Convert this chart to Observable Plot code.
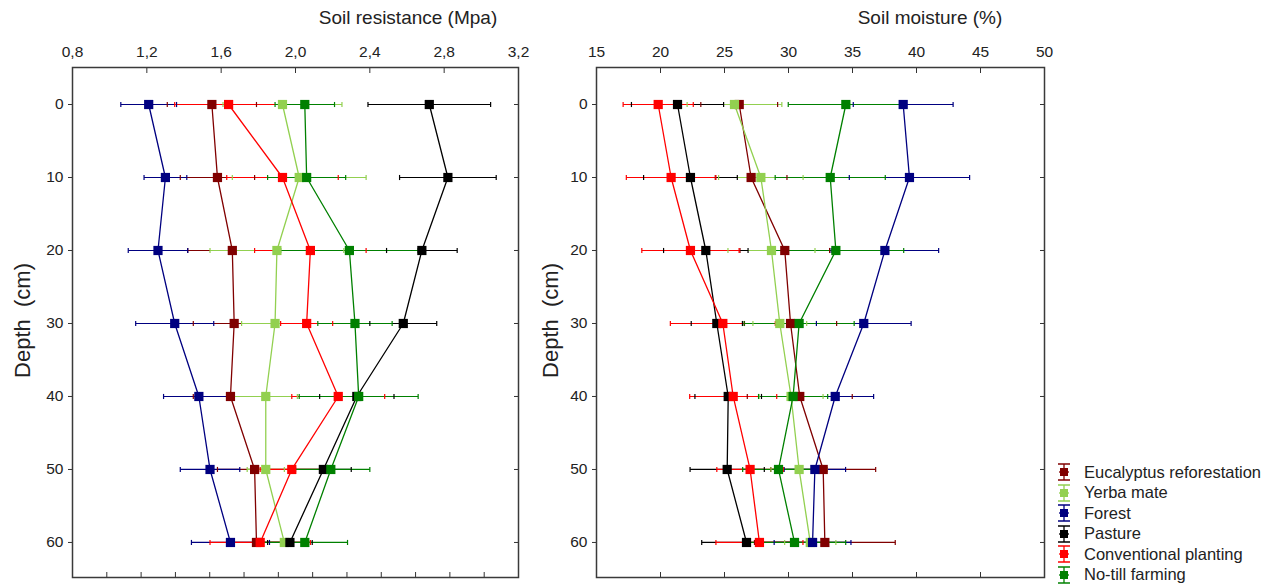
<!DOCTYPE html>
<html><head><meta charset="utf-8">
<script src="https://cdn.jsdelivr.net/npm/d3@7"></script>
<script src="https://cdn.jsdelivr.net/npm/@observablehq/plot@0.6"></script>
<style>
body{margin:0;background:#fff;font-family:"Liberation Sans",Arial,sans-serif;}
#wrap{position:relative;width:1273px;height:584px;overflow:hidden;background:#fff;}
.panel{position:absolute;top:0;}
.title{position:absolute;top:7px;font-size:19px;color:#222;white-space:nowrap;transform:translateX(-50%);}
#legend{position:absolute;left:1056px;top:462px;font-size:16.5px;color:#222;}
.item{display:flex;align-items:center;height:20.5px;}
.item svg{margin-right:12px;}
</style></head><body>
<div id="wrap">
  <div class="panel" id="left" style="left:0px"></div>
  <div class="panel" id="right" style="left:520px"></div>
  <div class="title" style="left:408px">Soil resistance (Mpa)</div>
  <div class="title" style="left:930px">Soil moisture (%)</div>
  <div id="legend"></div>
</div>
<script>
// ---- data ----
const depths = [0, 10, 20, 30, 40, 50, 60];
const seriesNames = ["Eucalyptus reforestation", "Yerba mate", "Forest", "Pasture", "Conventional planting", "No-till farming"];
const seriesColors = ["#800000", "#92d050", "#000080", "#000000", "#ff0000", "#008000"];

// Soil resistance (MPa) means per series, by depth
const resEucalyptus = [1.55, 1.58, 1.66, 1.67, 1.65, 1.78, 1.79];
const resYerba      = [1.93, 2.02, 1.90, 1.89, 1.84, 1.84, 1.94];
const resForest     = [1.21, 1.30, 1.26, 1.35, 1.48, 1.54, 1.65];
const resPasture    = [2.72, 2.82, 2.68, 2.58, 2.33, 2.15, 1.97];
const resConv       = [1.64, 1.93, 2.08, 2.06, 2.23, 1.98, 1.81];
const resNoTill     = [2.05, 2.06, 2.29, 2.32, 2.34, 2.19, 2.05];
// Soil resistance error half-widths
const resEucalyptusErr = [0.24, 0.20, 0.24, 0.22, 0.20, 0.20, 0.15];
const resYerbaErr      = [0.32, 0.36, 0.36, 0.18, 0.17, 0.10, 0.12];
const resForestErr     = [0.15, 0.115, 0.16, 0.21, 0.19, 0.16, 0.21];
const resPastureErr    = [0.33, 0.26, 0.19, 0.18, 0.20, 0.15, 0.12];
const resConvErr       = [0.29, 0.30, 0.30, 0.14, 0.25, 0.17, 0.27];
const resNoTillErr     = [0.16, 0.21, 0.37, 0.20, 0.32, 0.21, 0.23];

// Soil moisture (%) means
const moiEucalyptus = [26.15, 27.08, 29.71, 30.16, 30.88, 32.71, 32.84];
const moiYerba      = [25.78, 27.84, 28.67, 29.32, 30.20, 30.83, 31.70];
const moiForest     = [38.96, 39.45, 37.53, 35.88, 33.65, 32.06, 31.88];
const moiPasture    = [21.33, 22.34, 23.54, 24.40, 25.29, 25.21, 26.72];
const moiConv       = [19.82, 20.83, 22.34, 24.87, 25.68, 27.00, 27.73];
const moiNoTill     = [34.48, 33.26, 33.70, 30.83, 30.36, 29.22, 30.47];
// Soil moisture error half-widths
const moiEucalyptusErr = [3.0, 2.8, 3.5, 3.6, 4.1, 4.1, 5.5];
const moiYerbaErr      = [3.7, 3.3, 3.4, 2.1, 2.5, 2.2, 2.0];
const moiForestErr     = [3.9, 4.7, 4.2, 3.7, 3.0, 2.4, 3.0];
const moiPastureErr    = [3.6, 3.66, 3.3, 2.0, 2.6, 2.9, 3.5];
const moiConvErr       = [2.74, 3.5, 3.8, 4.1, 3.4, 2.6, 3.4];
const moiNoTillErr     = [4.5, 4.3, 5.3, 4.3, 2.7, 2.8, 4.0];

// tick labels
const resTopTicks = [0.8, 1.2, 1.6, 2.0, 2.4, 2.8, 3.2];
const resBottomTicks = d3.range(14).map(i => 0.8 + i * 2.4 / 13);
const moiTicks = [15, 20, 25, 30, 35, 40, 45, 50];
const depthLabel = "Depth\u00a0 (cm)";

// ---- build ----
function rows(vals, errs) {
  const out = [];
  seriesNames.forEach((s, i) => depths.forEach((d, j) => out.push({s, depth: d, v: vals[i][j], e: errs[i][j]})));
  return out;
}

function panel(data, {domain, topTicks, bottomTicks, fmt, width, ml, mr, labelDx}) {
  const lo = d => d.v - d.e, hi = d => d.v + d.e;
  const capA = d => d.depth - 0.35, capB = d => d.depth + 0.35;
  return Plot.plot({
    width, height: 584,
    marginLeft: ml, marginRight: mr, marginTop: 67, marginBottom: 7,
    style: {fontFamily: '"Liberation Sans", Arial, sans-serif', color: "#222", background: "transparent"},
    x: {domain, ticks: topTicks},
    y: {domain: [-5.07, 64.8], reverse: true},
    color: {type: "ordinal", domain: seriesNames, range: seriesColors},
    marks: [
      Plot.axisX({ticks: topTicks, anchor: "top", tickSize: -5, tickPadding: 16, tickFormat: fmt, fontSize: 15.5, label: null, stroke: "#333"}),
      Plot.axisX({ticks: bottomTicks, anchor: "bottom", tickSize: -5, tickFormat: () => "", label: null, stroke: "#333"}),
      Plot.axisY({ticks: depths, anchor: "left", tickSize: 4, tickPadding: 5, fontSize: 15.5, label: null, stroke: "#333"}),
      Plot.axisY({ticks: depths, anchor: "right", tickSize: -5, tickFormat: () => "", label: null, stroke: "#333"}),
      Plot.text([depthLabel], {frameAnchor: "left", textAnchor: "middle", rotate: -90, dx: labelDx, dy: -2, fontSize: 22, fill: "#222"}),
      Plot.link(data, {x1: lo, x2: hi, y1: "depth", y2: "depth", stroke: "s", strokeWidth: 1.2}),
      Plot.link(data, {x1: lo, x2: lo, y1: capA, y2: capB, stroke: "s", strokeWidth: 1.2}),
      Plot.link(data, {x1: hi, x2: hi, y1: capA, y2: capB, stroke: "s", strokeWidth: 1.2}),
      Plot.line(data, {x: "v", y: "depth", z: "s", stroke: "s", strokeWidth: 1.3}),
      Plot.dot(data, {x: "v", y: "depth", symbol: "square", r: 5.2, fill: "s", stroke: null}),
      Plot.frame({stroke: "#3a3a3a", strokeWidth: 1.5})
    ]
  });
}

const resData = rows([resEucalyptus, resYerba, resForest, resPasture, resConv, resNoTill],
                     [resEucalyptusErr, resYerbaErr, resForestErr, resPastureErr, resConvErr, resNoTillErr]);
const moiData = rows([moiEucalyptus, moiYerba, moiForest, moiPasture, moiConv, moiNoTill],
                     [moiEucalyptusErr, moiYerbaErr, moiForestErr, moiPastureErr, moiConvErr, moiNoTillErr]);

document.getElementById("left").append(panel(resData, {
  domain: [0.8, 3.2], topTicks: resTopTicks, bottomTicks: resBottomTicks,
  fmt: d => d.toFixed(1).replace(".", ","), width: 560, ml: 72, mr: 42, labelDx: -50
}));
document.getElementById("right").append(panel(moiData, {
  domain: [15, 50], topTicks: moiTicks, bottomTicks: moiTicks,
  fmt: d => String(d), width: 540, ml: 76, mr: 16, labelDx: -46
}));

// legend
const legend = document.getElementById("legend");
seriesNames.forEach((name, i) => {
  const c = seriesColors[i];
  const item = document.createElement("div");
  item.className = "item";
  item.innerHTML = `<svg width="16" height="20" viewBox="-8 -10 16 20">
    <line x1="0" y1="-8" x2="0" y2="8" stroke="${c}" stroke-width="1.3"/>
    <line x1="-6" y1="-8" x2="6" y2="-8" stroke="${c}" stroke-width="1.5"/>
    <line x1="-6" y1="8" x2="6" y2="8" stroke="${c}" stroke-width="1.5"/>
    <line x1="-5" y1="0" x2="5" y2="0" stroke="${c}" stroke-width="1.3"/>
    <rect x="-4" y="-4" width="8" height="8" fill="${c}"/>
  </svg><span>${name}</span>`;
  legend.append(item);
});
</script>
</body></html>
